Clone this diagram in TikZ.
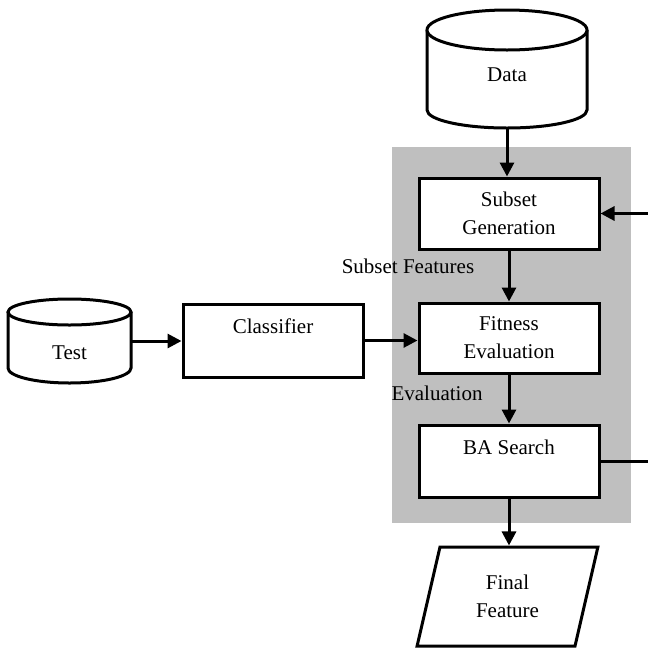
\documentclass[tikz,border=0pt]{standalone}
\usepackage{fontspec}
\setmainfont{Liberation Serif}
\usetikzlibrary{shapes.geometric,arrows.meta}
\begin{document}
\begin{tikzpicture}[x=0.5pt, y=-0.5pt, line width=1.5pt,
  every node/.style={font=\fontsize{10.5}{14}\selectfont, align=center},
  box/.style={draw, fill=white, minimum width=90pt, inner sep=0pt},
  flow/.style={-{Triangle[length=7pt, width=7pt]}}]
  \useasboundingbox (0,0) rectangle (648,649);
  \clip (0,0) rectangle (648,649);
  \fill[gray!50] (392,147) rectangle (631,523);
  % data store
  \draw[fill=white] (427,30) -- (427,110) arc[start angle=180, end angle=0, x radius=80, y radius=18] -- (587,30);
  \draw[fill=white] (507,30) ellipse[x radius=80, y radius=20];
  \node (data) at (507,75) {Data};
  \coordinate (data-base) at (507,128);
  % test store
  \draw[fill=white] (8,312) -- (8,368) arc[start angle=180, end angle=0, x radius=61.5, y radius=15] -- (131,312);
  \draw[fill=white] (69.5,312) ellipse[x radius=61.5, y radius=13];
  \node (test) at (69.5,353) {Test};
  \coordinate (test-side) at (131,341);
  \node[box, minimum height=35.5pt] (subset) at (509,213.5) {Subset\\Generation};
  \node[box, minimum height=35pt] (fitness) at (509,338) {Fitness\\Evaluation};
  \node[box, minimum height=36pt] (search) at (509,461) {BA Search\\~};
  \node[box, minimum height=36.5pt] (classifier) at (273,340.5) {Classifier\\~};
  \node[draw, fill=white, trapezium, trapezium left angle=76, trapezium right angle=104,
        trapezium stretches=true, minimum width=90.5pt, minimum height=49.5pt, inner sep=0pt]
        (final) at (507.5,596.5) {Final\\Feature};
  \node (sublabel) at (408,266) {Subset Features};
  \node (evallabel) at (437,393) {Evaluation};
  \draw[flow] (data-base) -- (data-base |- subset.north);
  \draw[flow] (subset) -- (fitness);
  \draw[flow] (fitness) -- (search);
  \draw[flow] (search) -- (search |- final.north);
  \draw[flow] (test-side) -- (classifier.west |- test-side);
  \draw[flow] (classifier.east) -- (fitness.west |- classifier.east);
  \draw[flow] (search.east) -- ++(70,0) |- (subset.east);
\end{tikzpicture}
\end{document}
